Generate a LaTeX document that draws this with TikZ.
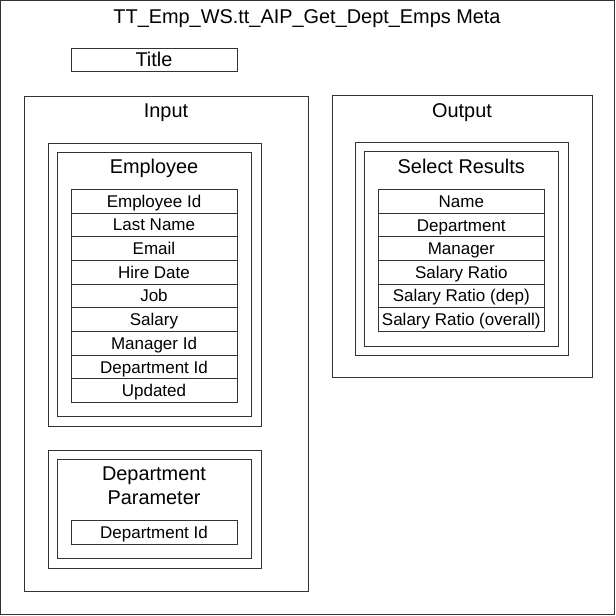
\documentclass[tikz,border=0pt]{standalone}
\usepackage{fontspec}
\setmainfont{Liberation Sans}
\begin{document}
\begin{tikzpicture}[x=1pt,y=-1pt,
  box/.style={draw=black!80,line width=1pt,fill=none},
  head/.style={anchor=base,inner sep=0pt,font=\fontsize{19.9}{22}\selectfont},
  rowtxt/.style={anchor=base,inner sep=0pt,font=\fontsize{17}{19}\selectfont}]
\useasboundingbox (0,0) rectangle (616,616);
% frame
\draw[box] (0.5,0.5) rectangle (614.5,614.5);
\node[head] (maintitle) at (307,23) {TT\_Emp\_WS.tt\_AIP\_Get\_Dept\_Emps Meta};
% Title box
\draw[box] (71,48) rectangle (237,71.5);
\node[head] (title) at (154,66.5) {Title};
% Input
\draw[box] (24,96) rectangle (308,591.5);
\node[head] (input) at (166,117) {Input};
% Employee
\draw[box] (48,143) rectangle (261,426);
\draw[box] (57,152) rectangle (251,416);
\node[head] (emp) at (154,173.5) {Employee};
\foreach \i/\t in {0/Employee Id,1/Last Name,2/Email,3/Hire Date,4/Job,5/Salary,6/Manager Id,7/Department Id,8/Updated}{
  \pgfmathsetmacro{\ya}{189.3+23.7*\i}
  \pgfmathsetmacro{\yb}{189.3+23.7*(\i+1)}
  \pgfmathsetmacro{\yc}{(\ya+\yb)/2+6}
  \draw[box] (71,\ya) rectangle (237,\yb);
  \node[rowtxt] (emprow\i) at (154,\yc) {\t};
}
% Department Parameter
\draw[box] (48,450) rectangle (261,568);
\draw[box] (57,459.3) rectangle (251,558.7);
\node[head] (dep1) at (154,480.7) {Department};
\node[head] (dep2) at (154,504.3) {Parameter};
\draw[box] (71,520.3) rectangle (237,544.3);
\node[rowtxt] (deprow) at (154,538.3) {Department Id};
% Output
\draw[box] (332,95.5) rectangle (592,377.7);
\node[head] (output) at (462,117) {Output};
\draw[box] (355,142.3) rectangle (568,355.7);
\draw[box] (364.3,151.7) rectangle (558.3,346);
\node[head] (sel) at (461.3,173.5) {Select Results};
\foreach \i/\t in {0/Name,1/Department,2/Manager,3/Salary Ratio,4/Salary Ratio (dep),5/Salary Ratio (overall)}{
  \pgfmathsetmacro{\ya}{189.7+23.6*\i}
  \pgfmathsetmacro{\yb}{189.7+23.6*(\i+1)}
  \pgfmathsetmacro{\yc}{(\ya+\yb)/2+6}
  \draw[box] (378.3,\ya) rectangle (544.3,\yb);
  \node[rowtxt] (selrow\i) at (461.3,\yc) {\t};
}
\end{tikzpicture}
\end{document}
